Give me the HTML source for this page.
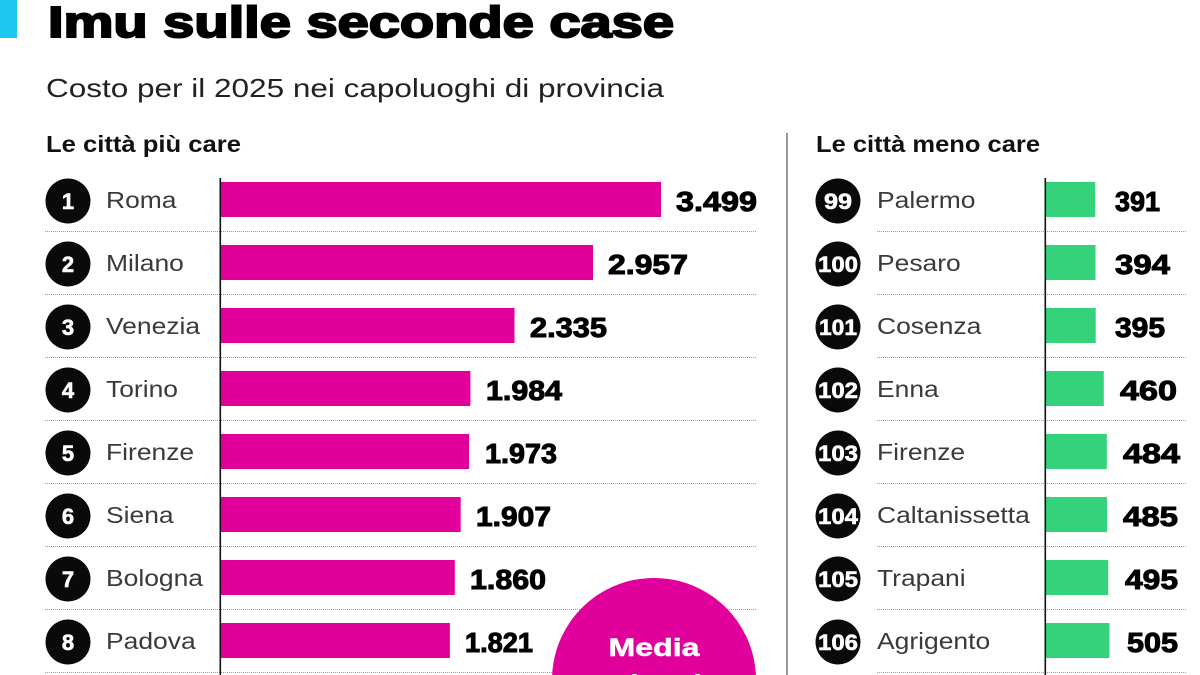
<!DOCTYPE html>
<html><head><meta charset="utf-8"><style>
html,body{margin:0;padding:0;background:#fff;width:1200px;height:675px;overflow:hidden;}
svg{display:block;}
text{font-family:"Liberation Sans",sans-serif;}
</style></head><body>
<svg width="1200" height="675" viewBox="0 0 1200 675" xmlns="http://www.w3.org/2000/svg" overflow="hidden">
<defs><clipPath id="frame"><rect x="0" y="0" width="1200" height="675"/></clipPath></defs>
<rect width="1200" height="675" fill="#fff"/>
<!-- header -->
<rect x="0" y="0" width="17" height="38" fill="#1cc8f0"/>
<text x="48" y="37" font-size="44" font-weight="bold" fill="#000" stroke="#000" stroke-width="2" textLength="626" lengthAdjust="spacingAndGlyphs">Imu sulle seconde case</text>
<text x="46" y="97" font-size="26" fill="#222" textLength="618" lengthAdjust="spacingAndGlyphs">Costo per il 2025 nei capoluoghi di provincia</text>
<text x="46" y="152" font-size="23" font-weight="bold" fill="#111" textLength="195" lengthAdjust="spacingAndGlyphs">Le città più care</text>
<text x="816" y="152" font-size="23" font-weight="bold" fill="#111" textLength="224" lengthAdjust="spacingAndGlyphs">Le città meno care</text>
<!-- divider -->
<rect x="786" y="133" width="2" height="542" fill="#9a9a9a"/>

<!-- separators -->
<g stroke="#9a9a9a" stroke-width="1" stroke-dasharray="1 1">
<line x1="45" y1="231.5" x2="757" y2="231.5"/>
<line x1="45" y1="294.5" x2="757" y2="294.5"/>
<line x1="45" y1="357.5" x2="757" y2="357.5"/>
<line x1="45" y1="420.5" x2="757" y2="420.5"/>
<line x1="45" y1="483.5" x2="757" y2="483.5"/>
<line x1="45" y1="546.5" x2="757" y2="546.5"/>
<line x1="45" y1="609.5" x2="757" y2="609.5"/>
<line x1="45" y1="672.5" x2="757" y2="672.5"/>
<line x1="877" y1="231.5" x2="1187" y2="231.5"/>
<line x1="877" y1="294.5" x2="1187" y2="294.5"/>
<line x1="877" y1="357.5" x2="1187" y2="357.5"/>
<line x1="877" y1="420.5" x2="1187" y2="420.5"/>
<line x1="877" y1="483.5" x2="1187" y2="483.5"/>
<line x1="877" y1="546.5" x2="1187" y2="546.5"/>
<line x1="877" y1="609.5" x2="1187" y2="609.5"/>
<line x1="877" y1="672.5" x2="1187" y2="672.5"/>
</g>

<!-- left bars -->
<g fill="#e2009c">
<rect x="221" y="182" width="440" height="35"/>
<rect x="221" y="245" width="372" height="35"/>
<rect x="221" y="308" width="293.5" height="35"/>
<rect x="221" y="371" width="249.4" height="35"/>
<rect x="221" y="434" width="248" height="35"/>
<rect x="221" y="497" width="239.7" height="35"/>
<rect x="221" y="560" width="233.8" height="35"/>
<rect x="221" y="623" width="228.9" height="35"/>
</g>
<!-- right bars -->
<g fill="#34d27b">
<rect x="1046" y="182" width="49.1" height="35"/>
<rect x="1046" y="245" width="49.5" height="35"/>
<rect x="1046" y="308" width="49.7" height="35"/>
<rect x="1046" y="371" width="57.8" height="35"/>
<rect x="1046" y="434" width="60.8" height="35"/>
<rect x="1046" y="497" width="61" height="35"/>
<rect x="1046" y="560" width="62.2" height="35"/>
<rect x="1046" y="623" width="63.5" height="35"/>
</g>
<!-- axes -->
<rect x="219.5" y="178" width="1.6" height="497" fill="#111"/>
<rect x="1044.5" y="178" width="1.6" height="497" fill="#111"/>

<!-- badges -->
<g fill="#0a0a0a">
<circle cx="68" cy="201" r="22.5"/><circle cx="68" cy="264" r="22.5"/><circle cx="68" cy="327" r="22.5"/><circle cx="68" cy="390" r="22.5"/>
<circle cx="68" cy="453" r="22.5"/><circle cx="68" cy="516" r="22.5"/><circle cx="68" cy="579" r="22.5"/><circle cx="68" cy="642" r="22.5"/>
<circle cx="838" cy="201" r="22.5"/><circle cx="838" cy="264" r="22.5"/><circle cx="838" cy="327" r="22.5"/><circle cx="838" cy="390" r="22.5"/>
<circle cx="838" cy="453" r="22.5"/><circle cx="838" cy="516" r="22.5"/><circle cx="838" cy="579" r="22.5"/><circle cx="838" cy="642" r="22.5"/>
</g>
<g fill="#fff" stroke="#fff" stroke-width="0.6" font-size="22" font-weight="bold" text-anchor="middle">
<text x="68" y="209">1</text><text x="68" y="272">2</text><text x="68" y="335">3</text><text x="68" y="398">4</text>
<text x="68" y="461">5</text><text x="68" y="524">6</text><text x="68" y="587">7</text><text x="68" y="650">8</text>
<text x="838" y="209" textLength="28" lengthAdjust="spacingAndGlyphs">99</text>
<text x="838" y="272" textLength="40" lengthAdjust="spacingAndGlyphs">100</text>
<text x="838" y="335" textLength="38" lengthAdjust="spacingAndGlyphs">101</text>
<text x="838" y="398" textLength="40" lengthAdjust="spacingAndGlyphs">102</text>
<text x="838" y="461" textLength="40" lengthAdjust="spacingAndGlyphs">103</text>
<text x="838" y="524" textLength="40" lengthAdjust="spacingAndGlyphs">104</text>
<text x="838" y="587" textLength="40" lengthAdjust="spacingAndGlyphs">105</text>
<text x="838" y="650" textLength="40" lengthAdjust="spacingAndGlyphs">106</text>
</g>

<!-- names -->
<g fill="#3a3a3a" font-size="23">
<text transform="translate(106,208) scale(1.15,1)">Roma</text>
<text transform="translate(106,271) scale(1.15,1)">Milano</text>
<text transform="translate(106,334) scale(1.15,1)">Venezia</text>
<text transform="translate(106,397) scale(1.15,1)">Torino</text>
<text transform="translate(106,460) scale(1.15,1)">Firenze</text>
<text transform="translate(106,523) scale(1.15,1)">Siena</text>
<text transform="translate(106,586) scale(1.15,1)">Bologna</text>
<text transform="translate(106,649) scale(1.15,1)">Padova</text>
<text transform="translate(877,208) scale(1.15,1)">Palermo</text>
<text transform="translate(877,271) scale(1.15,1)">Pesaro</text>
<text transform="translate(877,334) scale(1.15,1)">Cosenza</text>
<text transform="translate(877,397) scale(1.15,1)">Enna</text>
<text transform="translate(877,460) scale(1.15,1)">Firenze</text>
<text transform="translate(877,523) scale(1.15,1)">Caltanissetta</text>
<text transform="translate(877,586) scale(1.15,1)">Trapani</text>
<text transform="translate(877,649) scale(1.15,1)">Agrigento</text>
</g>

<!-- values -->
<g fill="#000" stroke="#000" stroke-width="1" font-size="28" font-weight="bold">
<text x="676" y="211" textLength="81" lengthAdjust="spacingAndGlyphs">3.499</text>
<text x="608" y="274" textLength="80" lengthAdjust="spacingAndGlyphs">2.957</text>
<text x="530" y="337" textLength="77" lengthAdjust="spacingAndGlyphs">2.335</text>
<text x="486" y="400" textLength="76" lengthAdjust="spacingAndGlyphs">1.984</text>
<text x="485" y="463" textLength="72" lengthAdjust="spacingAndGlyphs">1.973</text>
<text x="476" y="526" textLength="75" lengthAdjust="spacingAndGlyphs">1.907</text>
<text x="470" y="589" textLength="76" lengthAdjust="spacingAndGlyphs">1.860</text>
<text x="465" y="652" textLength="68" lengthAdjust="spacingAndGlyphs">1.821</text>
<text x="1115" y="211" textLength="45" lengthAdjust="spacingAndGlyphs">391</text>
<text x="1115" y="274" textLength="55" lengthAdjust="spacingAndGlyphs">394</text>
<text x="1115" y="337" textLength="50" lengthAdjust="spacingAndGlyphs">395</text>
<text x="1120" y="400" textLength="57" lengthAdjust="spacingAndGlyphs">460</text>
<text x="1123" y="463" textLength="57" lengthAdjust="spacingAndGlyphs">484</text>
<text x="1123" y="526" textLength="55" lengthAdjust="spacingAndGlyphs">485</text>
<text x="1125" y="589" textLength="53" lengthAdjust="spacingAndGlyphs">495</text>
<text x="1127" y="652" textLength="51" lengthAdjust="spacingAndGlyphs">505</text>
</g>

<!-- media circle (segment clipped at frame bottom) -->
<path d="M 552.12 675 A 102 102 0 0 1 755.88 675 Z" fill="#e2009c"/>
<text x="654" y="656" font-size="25" font-weight="bold" fill="#fff" stroke="#fff" stroke-width="0.5" text-anchor="middle" textLength="91" lengthAdjust="spacingAndGlyphs">Media</text>
<g clip-path="url(#frame)">
<text x="654" y="692" font-size="25" font-weight="bold" fill="#fff" text-anchor="middle" textLength="150" lengthAdjust="spacingAndGlyphs">nazionale:</text>
</g>
</svg>
</body></html>
